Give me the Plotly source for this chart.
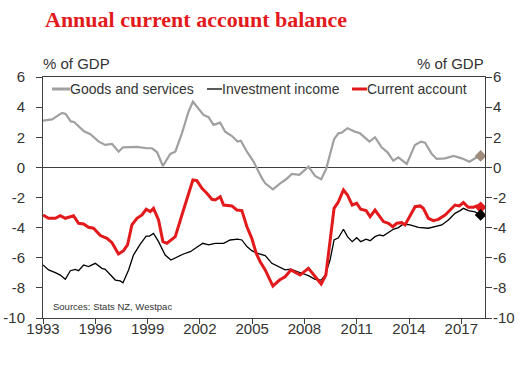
import plotly.graph_objects as go

# ---- data ----
gs_x = [1993.00, 1993.52, 1994.09, 1994.30, 1994.59, 1994.78, 1995.35, 1995.72, 1996.20, 1996.57,
        1996.96, 1997.34, 1997.59, 1998.39, 1998.96, 1999.25, 1999.54, 1999.88, 2000.30, 2000.59,
        2000.97, 2001.35, 2001.60, 2001.92, 2002.21, 2002.50, 2002.78, 2003.17, 2003.45, 2003.84,
        2004.16, 2004.35, 2004.70, 2005.08, 2005.27, 2005.56, 2005.75, 2006.19, 2006.61, 2006.95,
        2007.28, 2007.71, 2008.23, 2008.61, 2008.96, 2009.24, 2009.70, 2009.95, 2010.14, 2010.47,
        2010.91, 2011.19, 2011.73, 2012.05, 2012.43, 2012.78, 2013.10, 2013.39, 2013.87, 2014.34,
        2014.69, 2014.92, 2015.31, 2015.59, 2016.07, 2016.55, 2017.03, 2017.47, 2017.79, 2018.11]
gs_y = [3.10, 3.19, 3.62, 3.55, 3.05, 3.01, 2.40, 2.20, 1.71, 1.49,
        1.55, 1.04, 1.33, 1.36, 1.27, 1.27, 1.02, 0.09, 0.89, 1.04,
        2.26, 3.70, 4.36, 3.92, 3.48, 3.33, 2.82, 2.97, 2.37, 2.08,
        1.71, 1.77, 1.04, 0.38, -0.06, -0.72, -1.06, -1.46, -1.06, -0.79,
        -0.44, -0.50, 0.05, -0.57, -0.79, -0.13, 1.87, 2.26, 2.30, 2.60,
        2.37, 2.26, 1.71, 2.00, 1.33, 0.98, 0.44, 0.67, 0.23, 1.49,
        1.71, 1.64, 0.89, 0.56, 0.60, 0.76, 0.60, 0.38, 0.60, 0.76]

ii_x = [1993.00, 1993.32, 1993.71, 1993.99, 1994.28, 1994.57, 1994.85, 1995.04, 1995.33, 1995.61,
        1996.00, 1996.38, 1996.57, 1996.86, 1997.15, 1997.43, 1997.59, 1997.91, 1998.19, 1998.58,
        1998.92, 1999.11, 1999.34, 1999.63, 2000.01, 2000.34, 2000.68, 2001.06, 2001.45, 2001.83,
        2002.17, 2002.50, 2002.88, 2003.36, 2003.74, 2004.16, 2004.41, 2004.70, 2004.98, 2005.27,
        2005.56, 2005.75, 2006.13, 2006.51, 2006.89, 2007.22, 2007.56, 2007.85, 2008.23, 2008.61,
        2008.96, 2009.19, 2009.47, 2009.70, 2009.95, 2010.24, 2010.47, 2010.74, 2011.00, 2011.23,
        2011.54, 2011.77, 2012.05, 2012.30, 2012.53, 2012.82, 2013.10, 2013.39, 2013.68, 2014.06,
        2014.54, 2015.11, 2015.49, 2015.88, 2016.26, 2016.64, 2016.93, 2017.12, 2017.40, 2017.79,
        2018.11]
ii_y = [-6.48, -6.81, -6.99, -7.15, -7.43, -6.86, -6.77, -6.86, -6.48, -6.59,
        -6.37, -6.70, -6.77, -7.15, -7.48, -7.54, -7.66, -6.81, -5.82, -5.09,
        -4.56, -4.56, -4.38, -4.93, -5.82, -6.15, -5.97, -5.75, -5.60, -5.31,
        -5.04, -5.15, -5.04, -5.04, -4.82, -4.77, -4.82, -5.26, -5.53, -5.70,
        -5.82, -5.86, -6.37, -6.59, -6.81, -6.75, -6.92, -7.03, -7.19, -7.43,
        -7.48, -7.15, -6.15, -4.82, -4.67, -4.11, -4.60, -4.93, -4.67, -4.93,
        -4.77, -4.87, -4.60, -4.49, -4.55, -4.34, -4.11, -4.00, -3.76, -3.82,
        -3.98, -4.04, -3.94, -3.82, -3.49, -3.05, -2.87, -2.72, -2.87, -2.96,
        -3.16]

ca_x = [1993.00, 1993.32, 1993.71, 1993.99, 1994.28, 1994.75, 1995.04, 1995.33, 1995.61, 1995.90,
        1996.29, 1996.67, 1996.96, 1997.15, 1997.33, 1997.62, 1997.85, 1998.10, 1998.39, 1998.68,
        1998.92, 1999.15, 1999.34, 1999.63, 1999.88, 2000.11, 2000.59, 2000.97, 2001.29, 2001.60,
        2001.83, 2002.12, 2002.40, 2002.69, 2002.88, 2003.17, 2003.36, 2003.84, 2004.12, 2004.41,
        2004.70, 2004.98, 2005.23, 2005.46, 2005.75, 2006.19, 2006.57, 2006.89, 2007.22, 2007.75,
        2008.23, 2008.61, 2008.96, 2009.23, 2009.47, 2009.70, 2009.95, 2010.24, 2010.47, 2010.74,
        2011.00, 2011.23, 2011.54, 2011.77, 2012.05, 2012.28, 2012.53, 2012.82, 2013.07, 2013.30,
        2013.58, 2013.77, 2014.06, 2014.35, 2014.64, 2014.82, 2015.11, 2015.40, 2015.68, 2016.07,
        2016.36, 2016.64, 2016.89, 2017.12, 2017.40, 2017.69, 2017.89, 2018.11]
ca_y = [-3.16, -3.38, -3.38, -3.21, -3.38, -3.21, -3.71, -3.76, -3.98, -4.04,
        -4.53, -4.71, -5.00, -5.37, -5.75, -5.53, -5.15, -3.82, -3.38, -3.16,
        -2.78, -2.94, -2.72, -3.49, -4.93, -5.04, -4.60, -3.16, -1.95, -0.84,
        -0.88, -1.39, -1.72, -2.12, -2.16, -1.95, -2.50, -2.56, -2.83, -2.87,
        -3.94, -4.71, -5.70, -6.26, -6.81, -7.88, -7.48, -7.26, -6.81, -7.15,
        -6.70, -7.26, -7.74, -7.15, -5.04, -2.72, -2.28, -1.50, -1.83, -2.50,
        -2.39, -2.78, -2.87, -3.27, -2.83, -3.20, -3.60, -3.71, -3.94, -3.71,
        -3.67, -3.82, -3.16, -2.61, -2.56, -2.72, -3.38, -3.54, -3.45, -3.16,
        -2.83, -2.50, -2.56, -2.34, -2.65, -2.65, -2.56, -2.65]

series_names = ["Goods and services", "Investment income", "Current account"]
x_ticks = [1993, 1996, 1999, 2002, 2005, 2008, 2011, 2014, 2017]
y_ticks = [-10, -8, -6, -4, -2, 0, 2, 4, 6]
y_ticktext = ["-10", "-8", "-6", "-4", "-2", "0", "2", "4", "6"]

# ---- styles ----
GREY = "#a0a0a0"
BLACK = "#000000"
RED = "#e31a1c"
TXT = "#333333"
AXC = "#404040"
FONT = "Liberation Sans, Arial, sans-serif"

fig = go.Figure()
fig.add_trace(go.Scatter(x=gs_x, y=gs_y, mode="lines", name=series_names[0],
                         line=dict(color=GREY, width=2.2), showlegend=False))
fig.add_trace(go.Scatter(x=ii_x, y=ii_y, mode="lines", name=series_names[1],
                         line=dict(color=BLACK, width=1.3), showlegend=False))
fig.add_trace(go.Scatter(x=ca_x, y=ca_y, mode="lines", name=series_names[2],
                         line=dict(color=RED, width=3), showlegend=False))
# end-point markers
fig.add_trace(go.Scatter(x=[gs_x[-1]], y=[gs_y[-1]], mode="markers", showlegend=False,
                         marker=dict(symbol="diamond", size=9, color="#a08c7d")))
fig.add_trace(go.Scatter(x=[ca_x[-1]], y=[ca_y[-1]], mode="markers", showlegend=False,
                         marker=dict(symbol="diamond", size=9, color=RED)))
fig.add_trace(go.Scatter(x=[ii_x[-1]], y=[ii_y[-1]], mode="markers", showlegend=False,
                         marker=dict(symbol="diamond", size=9, color=BLACK)))
# invisible trace to activate the right axis
fig.add_trace(go.Scatter(x=[x_ticks[0]], y=[y_ticks[0]], mode="markers", yaxis="y2",
                         marker=dict(opacity=0), showlegend=False, hoverinfo="skip"))

axis_common = dict(showgrid=False, showline=True, linecolor=AXC, linewidth=1,
                   ticks="outside", tickcolor=AXC, tickwidth=1, automargin=False,
                   tickfont=dict(family=FONT, size=15, color=TXT))

fig.update_layout(
    template="none",
    width=529, height=366,
    margin=dict(l=43, r=44, t=77, b=48, autoexpand=False),
    paper_bgcolor="white", plot_bgcolor="white",
    showlegend=False,
    xaxis=dict(range=[1993, 2018.36], tickvals=x_ticks, ticklen=5, mirror=True,
               zeroline=False, ticklabelstandoff=-8, **axis_common),
    yaxis=dict(range=[-10, 6], tickvals=y_ticks, ticktext=y_ticktext, ticklen=6,
               zeroline=True, zerolinecolor=AXC, zerolinewidth=1, ticklabelstandoff=8,
               **axis_common),
    yaxis2=dict(range=[-10, 6], tickvals=y_ticks, ticktext=y_ticktext, ticklen=6,
                overlaying="y", side="right", zeroline=False, ticklabelstandoff=-2,
                **axis_common),
)

# title and axis unit labels
fig.add_annotation(text="<b>Annual current account balance</b>", xref="paper", yref="paper",
                   x=(43 - 43) / 442, y=(318 - 20) / 241, xanchor="left", yanchor="middle",
                   showarrow=False, font=dict(family="Liberation Serif, Times New Roman, serif",
                                              size=22, color=RED))
fig.add_annotation(text="% of GDP", xref="paper", yref="paper", x=(41 - 43) / 442,
                   y=(318 - 64) / 241, xanchor="left", yanchor="middle", showarrow=False,
                   font=dict(family=FONT, size=15, color=TXT))
fig.add_annotation(text="% of GDP", xref="paper", yref="paper", x=(486 - 43) / 442,
                   y=(318 - 64) / 241, xanchor="right", yanchor="middle", showarrow=False,
                   font=dict(family=FONT, size=15, color=TXT))
fig.add_annotation(text="Sources: Stats NZ, Westpac", xref="paper", yref="paper",
                   x=(51 - 43) / 442, y=(318 - 306) / 241, xanchor="left", yanchor="middle",
                   showarrow=False, font=dict(family=FONT, size=9.5, color=TXT))

# legend (manual, to match short line samples)
leg_y = (318 - 89) / 241
legend_items = [
    (52, 70, GREY, 3, series_names[0]),
    (207, 222, BLACK, 1.3, series_names[1]),
    (352, 367, RED, 3, series_names[2]),
]
for x0, x1, col, w, label in legend_items:
    fig.add_shape(type="line", xref="paper", yref="paper",
                  x0=(x0 - 43) / 442, x1=(x1 - 43) / 442, y0=leg_y, y1=leg_y,
                  line=dict(color=col, width=w))
    fig.add_annotation(text=label, xref="paper", yref="paper", x=(x1 - 43) / 442, y=leg_y,
                       xanchor="left", yanchor="middle", showarrow=False, xshift=-2,
                       font=dict(family=FONT, size=14, color=TXT))

fig.write_html("out.html", config={"displayModeBar": False},
               post_script="document.body.style.margin='0px';")
